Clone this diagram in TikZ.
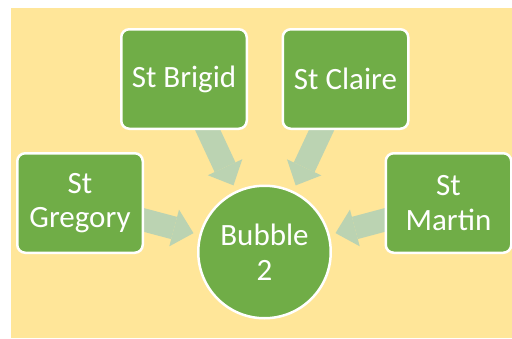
\documentclass[tikz,border=0pt]{standalone}
\usepackage{fontspec}
\setmainfont{Carlito}
\usetikzlibrary{arrows.meta}
\pgfdeclarelayer{back}
\pgfdeclarelayer{mid}
\pgfsetlayers{back,mid,main}
\definecolor{boxgreen}{HTML}{70AD47}
\definecolor{bgyellow}{HTML}{FFE699}
\definecolor{arrowgreen}{HTML}{BBD3B2}
\tikzset{
  box/.style={draw=white, line width=2.5pt, fill=boxgreen, rounded corners=8pt,
    minimum width=125.5pt, minimum height=99.5pt, text=white,
    font=\fontsize{31}{34.5}\selectfont, align=center, inner sep=0pt},
  bubble/.style={circle, draw=white, line width=2.5pt, fill=boxgreen,
    minimum size=132.5pt, text=white, font=\fontsize{31}{34.5}\selectfont,
    align=center, inner sep=0pt},
  flow/.style={draw=arrowgreen, line width=23pt,
    -{Triangle[width=38pt,length=20pt,line width=0pt]}, shorten >=6pt}
}
\begin{document}
\begin{tikzpicture}[x=1pt,y=-1pt]
  \useasboundingbox (0,0) rectangle (512,338);
  \begin{pgfonlayer}{back}
    \fill[bgyellow] (11,8) rectangle (512,338);
  \end{pgfonlayer}
  \node[bubble] (bubble) at (264.5,252) {Bubble\\2};
  \node[box] (brigid) at (184,79) {St Brigid};
  \node[box] (claire) at (345.5,79) {St Claire};
  \node[box] (gregory) at (80,203) {St\\Gregory};
  \node[box] (martin) at (448.5,203) {St\\Martin};
  \begin{pgfonlayer}{mid}
    \draw[flow] (brigid.center) -- (bubble);
    \draw[flow] (claire.center) -- (bubble);
    \draw[flow] (gregory.center) -- (bubble);
    \draw[flow] (martin.center) -- (bubble);
  \end{pgfonlayer}
\end{tikzpicture}
\end{document}
